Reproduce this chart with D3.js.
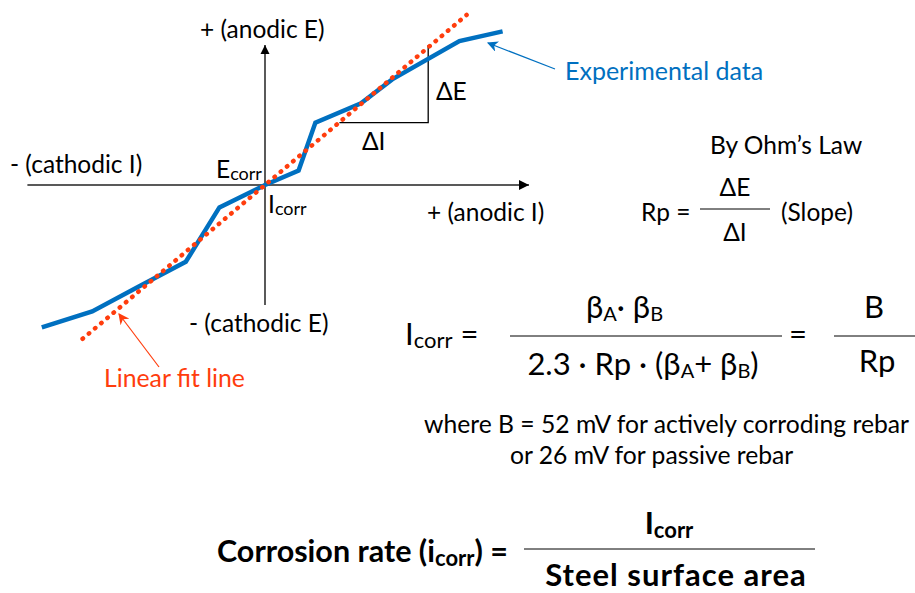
<!DOCTYPE html>
<html>
<head>
<meta charset="utf-8">
<script src="https://cdn.jsdelivr.net/npm/d3@7"></script>
<style>
  body { margin: 0; background: #fff; }
  svg text { font-family: Lato, "Open Sans", sans-serif; fill: #000; }
</style>
</head>
<body>
<div class="chart"></div>
<script>
// polarization curve (arbitrary units, Ecorr/Icorr at origin)
const currentI   = [-0.93, -0.72, -0.52, -0.33, -0.19, 0, 0.14, 0.21, 0.40, 0.53, 0.81, 0.99];
const potentialE = [-0.89, -0.79, -0.63, -0.48, -0.14, 0, 0.09, 0.39, 0.51, 0.66, 0.90, 0.96];
// linear fit through origin
const fitRange = [-0.76, 0.84];
const fitSlope = 1.265;
// slope triangle
const triI = [0.31, 0.68, 0.68];
const triE = [0.39, 0.39, 0.875];
// axis extents
const axisI = [-0.99, 1.10];
const axisE = [-0.75, 0.875];

const svgWidth = 915, svgHeight = 593;
const blue = '#0070c0', red = '#ff3d0d';

const svg = d3.select('.chart')
    .append('svg')
    .attr('width', svgWidth)
    .attr('height', svgHeight);

const x = d3.scaleLinear().domain([-1, 1]).range([25, 505]);
const y = d3.scaleLinear().domain([-1, 1]).range([345, 25]);

const defs = svg.append('defs');
defs.append('marker').attr('id', 'arrX')
    .attr('viewBox', '0 0 10 10').attr('refX', 10).attr('refY', 5)
    .attr('markerWidth', 10).attr('markerHeight', 12).attr('markerUnits', 'userSpaceOnUse')
    .attr('orient', 'auto')
    .append('path').attr('d', 'M0,0L10,5L0,10Z').attr('fill', '#000');
defs.append('marker').attr('id', 'arrY')
    .attr('viewBox', '0 0 10 10').attr('refX', 10).attr('refY', 5)
    .attr('markerWidth', 9).attr('markerHeight', 11).attr('markerUnits', 'userSpaceOnUse')
    .attr('orient', 'auto')
    .append('path').attr('d', 'M0,0L10,5L0,10Z').attr('fill', '#000');
['arrBlue', 'arrRed'].forEach((id, i) => {
    defs.append('marker').attr('id', id)
        .attr('viewBox', '0 0 10 10').attr('refX', 9).attr('refY', 5)
        .attr('markerWidth', 11).attr('markerHeight', 11).attr('markerUnits', 'userSpaceOnUse')
        .attr('orient', 'auto')
        .append('path').attr('d', 'M0,0L10,5L0,10L3,5Z').attr('fill', i ? red : blue);
});

// axes
svg.append('line')
    .attr('x1', x(axisI[0])).attr('x2', x(axisI[1]))
    .attr('y1', y(0)).attr('y2', y(0))
    .attr('stroke', '#595959').attr('stroke-width', 2)
    .attr('marker-end', 'url(#arrX)');
svg.append('line')
    .attr('x1', x(0)).attr('x2', x(0))
    .attr('y1', y(axisE[0])).attr('y2', y(axisE[1]))
    .attr('stroke', '#000').attr('stroke-width', 1.3)
    .attr('marker-end', 'url(#arrY)');

// slope triangle
svg.append('path')
    .datum(d3.zip(triI, triE))
    .attr('d', d3.line().x(d => x(d[0])).y(d => y(d[1])))
    .attr('fill', 'none').attr('stroke', '#000').attr('stroke-width', 1.3);

// experimental data
svg.append('path')
    .datum(d3.zip(currentI, potentialE))
    .attr('d', d3.line().x(d => x(d[0])).y(d => y(d[1])))
    .attr('fill', 'none').attr('stroke', blue).attr('stroke-width', 4.5)
    .attr('stroke-linejoin', 'miter');

// linear fit
svg.append('line')
    .attr('x1', x(fitRange[0])).attr('y1', y(fitRange[0] * fitSlope))
    .attr('x2', x(fitRange[1])).attr('y2', y(fitRange[1] * fitSlope))
    .attr('stroke', red).attr('stroke-width', 4.5)
    .attr('stroke-linecap', 'round').attr('stroke-dasharray', '0.5 7.6');

// callout arrows
svg.append('line').attr('x1', 555).attr('y1', 69).attr('x2', 488).attr('y2', 43)
    .attr('stroke', blue).attr('stroke-width', 1.2).attr('marker-end', 'url(#arrBlue)');
svg.append('line').attr('x1', 159).attr('y1', 367).attr('x2', 119).attr('y2', 314)
    .attr('stroke', red).attr('stroke-width', 1.2).attr('marker-end', 'url(#arrRed)');

function label(tx, ty, parts, opts = {}) {
    const t = svg.append('text').attr('x', tx).attr('y', ty)
        .style('font-size', (opts.size || 24.5) + 'px')
        .attr('text-anchor', opts.anchor || 'start');
    if (opts.color) t.style('fill', opts.color);
    if (opts.bold) t.style('font-weight', 'bold');
    if (opts.spacing) t.style('letter-spacing', opts.spacing + 'px');
    parts.forEach(p => {
        const s = t.append('tspan').text(p.t || p);
        if (p.sub) s.attr('dy', p.sub).style('font-size', p.fs + 'px');
        if (p.up) s.attr('dy', -p.up);
    });
    return t;
}
const sub = (t, fs, dy) => ({ t, fs, sub: dy });
const back = (t, dy) => ({ t, up: dy });

// axis labels
label(200, 38, ['+ (anodic E)']);
label(10, 173, ['- (cathodic I)']);
label(216, 178, ['E', sub('corr', 18, 2)]);
label(268, 213, ['I', sub('corr', 18, 2)]);
label(427, 221, ['+ (anodic I)']);
label(189, 332, ['- (cathodic E)']);
label(436, 100, ['\u0394E']);
label(362, 150, ['\u0394I']);
label(565, 80, ['Experimental data'], { color: blue, size: 25 });
label(104, 387, ['Linear fit line'], { color: red, size: 24.8 });

// Ohm's law
label(710, 154, ['By Ohm\u2019s Law']);
label(641, 221, ['Rp =']);
label(735, 196, ['\u0394E'], { anchor: 'middle' });
label(735, 241, ['\u0394I'], { anchor: 'middle' });
label(781, 221, ['(Slope)']);
svg.append('line').attr('x1', 700).attr('x2', 770).attr('y1', 209).attr('y2', 209)
    .attr('stroke', '#000').attr('stroke-width', 1);

// Stern-Geary
label(405, 345, ['I', sub('corr', 22, 3), back(' =', 3)], { size: 31 });
label(586, 318, ['\u03b2', sub('A', 20, 3), back('\u00b7 \u03b2', 3), sub('B', 20, 3)], { size: 31 });
label(643, 375, ['2.3 \u00b7 Rp \u00b7 (\u03b2', sub('A', 20, 3), back('+ \u03b2', 3), sub('B', 20, 3), back(')', 3)], { size: 31, anchor: 'middle' });
svg.append('line').attr('x1', 510).attr('x2', 782).attr('y1', 336).attr('y2', 336)
    .attr('stroke', '#000').attr('stroke-width', 1);
label(798, 345, ['='], { size: 31, anchor: 'middle' });
label(874, 318, ['B'], { size: 31, anchor: 'middle' });
label(877, 372, ['Rp'], { size: 31, anchor: 'middle' });
svg.append('line').attr('x1', 834).attr('x2', 915).attr('y1', 336).attr('y2', 336)
    .attr('stroke', '#000').attr('stroke-width', 1);

label(424, 433, ['where B = 52 mV for actively corroding rebar'], { size: 24.7 });
label(510, 464, ['or 26 mV for passive rebar'], { size: 24.7 });

// corrosion rate
label(217, 562, ['Corrosion rate (i', sub('corr', 22, 4), back(') =', 4)], { size: 30.5, bold: true });
label(669, 534, ['I', sub('corr', 22, 4)], { size: 31, bold: true, anchor: 'middle' });
label(676, 586, ['Steel surface area'], { size: 31, bold: true, anchor: 'middle', spacing: 1 });
svg.append('line').attr('x1', 524).attr('x2', 815).attr('y1', 549).attr('y2', 549)
    .attr('stroke', '#000').attr('stroke-width', 1);
</script>
</body>
</html>
